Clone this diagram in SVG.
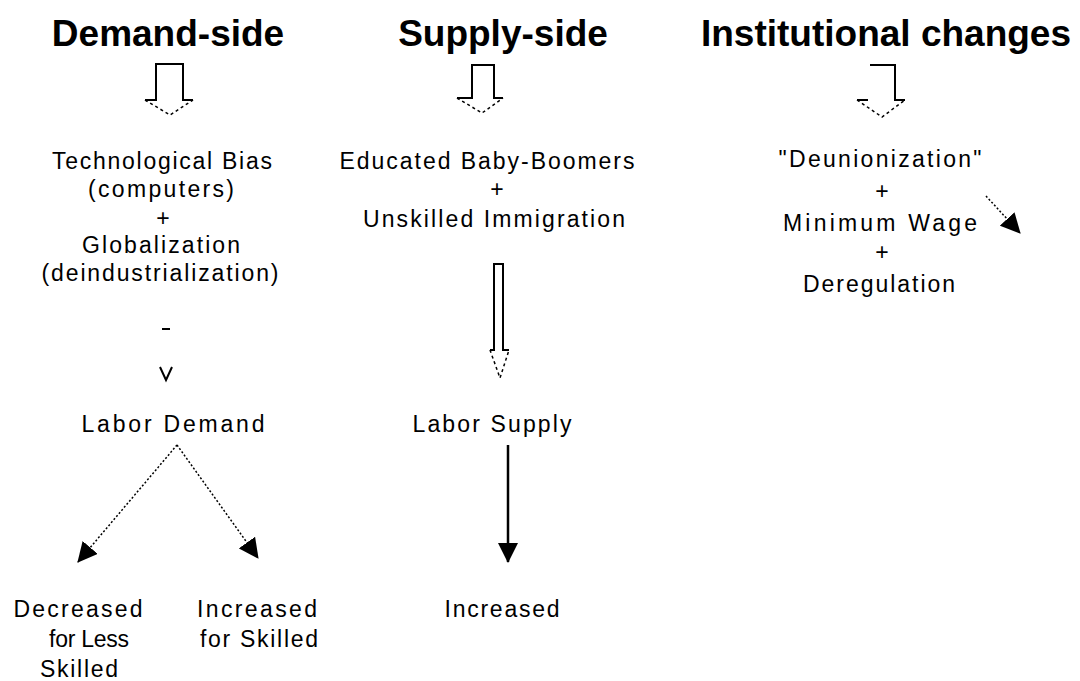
<svg xmlns="http://www.w3.org/2000/svg" width="1080" height="681" viewBox="0 0 1080 681">
<style>
.title{font-family:"Liberation Sans",Arial,sans-serif;font-weight:bold;font-size:37px;fill:#000;text-anchor:middle}
.t{font-family:"Liberation Sans",Arial,sans-serif;font-size:23px;fill:#000;text-anchor:middle}
.solid{fill:none;stroke:#000;stroke-width:2}
.dash{fill:none;stroke:#000;stroke-width:1.5;stroke-dasharray:3,3}
.dot{fill:none;stroke:#000;stroke-width:1.5;stroke-dasharray:2,2}
.line{fill:none;stroke:#000;stroke-width:2.5}
</style>
<defs>
<marker id="head" viewBox="0 0 20 20" markerWidth="20" markerHeight="20" refX="19" refY="10" orient="auto" markerUnits="userSpaceOnUse">
<path d="M0,0 L20,10 L0,20 z" fill="#000"/>
</marker>
</defs>
<rect width="1080" height="681" fill="#fff"/>

<g id="demand-title"><text class="title" x="168" y="46">Demand-side</text></g>
<g id="supply-title"><text class="title" x="503" y="46">Supply-side</text></g>
<g id="institutional-title"><text class="title" x="886" y="46">Institutional changes</text></g>

<g id="demand-causes">
<text class="t" x="162" y="169" textLength="220" lengthAdjust="spacing">Technological Bias</text>
<text class="t" x="161" y="197" textLength="146" lengthAdjust="spacing">(computers)</text>
<text class="t" x="163" y="226">+</text>
<text class="t" x="161" y="253" textLength="158" lengthAdjust="spacing">Globalization</text>
<text class="t" x="160" y="281" textLength="237" lengthAdjust="spacing">(deindustrialization)</text>
</g>
<g id="labor-demand"><text class="t" x="173" y="432" textLength="183" lengthAdjust="spacing">Labor Demand</text></g>
<g id="decreased-less-skilled">
<text class="t" x="78" y="617" textLength="129" lengthAdjust="spacing">Decreased</text>
<text class="t" x="89" y="647" textLength="80" lengthAdjust="spacing">for Less</text>
<text class="t" x="79" y="677" textLength="78" lengthAdjust="spacing">Skilled</text>
</g>
<g id="increased-skilled">
<text class="t" x="257" y="617" textLength="120" lengthAdjust="spacing">Increased</text>
<text class="t" x="259" y="647" textLength="118" lengthAdjust="spacing">for Skilled</text>
</g>

<g id="supply-causes">
<text class="t" x="487" y="169" textLength="295" lengthAdjust="spacing">Educated Baby-Boomers</text>
<text class="t" x="497" y="197">+</text>
<text class="t" x="494" y="227" textLength="262" lengthAdjust="spacing">Unskilled Immigration</text>
</g>
<g id="labor-supply"><text class="t" x="492" y="432" textLength="159" lengthAdjust="spacing">Labor Supply</text></g>
<g id="supply-increased"><text class="t" x="502" y="617" textLength="115" lengthAdjust="spacing">Increased</text></g>

<g id="institutional-causes">
<text class="t" x="880" y="167" textLength="203" lengthAdjust="spacing">"Deunionization"</text>
<text class="t" x="882" y="199">+</text>
<text class="t" x="880" y="231" textLength="194" lengthAdjust="spacing">Minimum Wage</text>
<text class="t" x="882" y="260">+</text>
<text class="t" x="879" y="292" textLength="152" lengthAdjust="spacing">Deregulation</text>
</g>

<g id="connectors">
<path class="solid" d="M145,100 H156 V64 H183 V100 H193"/>
<path class="dash" d="M145,100 L170,115 L193,100"/>
<path class="solid" d="M457,98 H472 V65 H494 V98 H503"/>
<path class="dash" d="M457,98 L482,113 L503,98"/>
<path class="solid" d="M870,65 H895 V100 H905 M857,100 H868"/>
<path class="dash" d="M857,100 L882,117 L905,100"/>
<path class="solid" d="M490,350 H494 V264 H503 V350 H509"/>
<path class="dash" d="M490,350 L500,378 L509,350"/>
<path class="solid" d="M162,329 H170"/>
<path class="solid" stroke-width="1.5" d="M160,367 L166,380 L172,367"/>
<path class="dot" d="M177,445 L78,562" marker-end="url(#head)"/>
<path class="dot" d="M177,445 L258,558" marker-end="url(#head)"/>
<path class="line" d="M508,445 V562" marker-end="url(#head)"/>
<path class="dot" d="M986,196 L1020,233" marker-end="url(#head)"/>
</g>
</svg>
